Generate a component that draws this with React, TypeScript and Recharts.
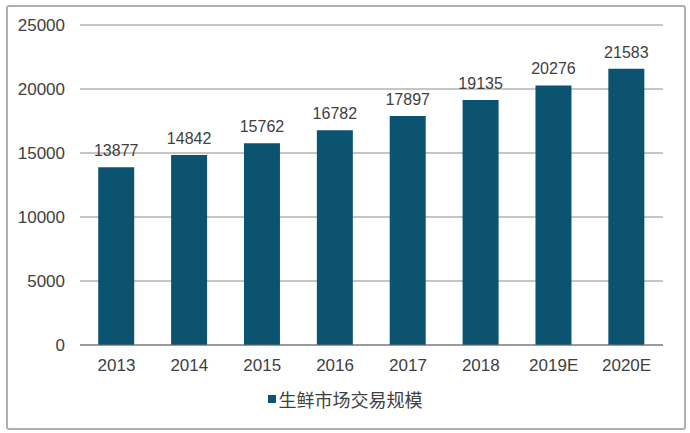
import { BarChart, Bar, XAxis, YAxis, CartesianGrid, Legend, LabelList } from 'recharts';

const years = ['2013', '2014', '2015', '2016', '2017', '2018', '2019E', '2020E'];
const marketSize = [13877, 14842, 15762, 16782, 17897, 19135, 20276, 21583];
const yTicks = [0, 5000, 10000, 15000, 20000, 25000];

const SERIES_NAME = '生鲜市场交易规模';
const BAR_COLOR = '#0c5370';
const TEXT_COLOR = '#404040';

const chartData = years.map((year, i) => ({ year, value: marketSize[i] }));

const LegendContent = () => (
  <div
    style={{
      display: 'flex',
      justifyContent: 'center',
      alignItems: 'center',
      fontFamily: '"Noto Sans CJK SC", "Liberation Sans", sans-serif',
      fontSize: 18,
      color: TEXT_COLOR,
    }}
  >
    <span style={{ width: 8, height: 8, background: BAR_COLOR, marginRight: 3 }} />
    <span>{SERIES_NAME}</span>
  </div>
);

export default function App() {
  return (
    <div style={{ position: 'fixed', left: 0, top: 0, width: 690, height: 433, background: '#fff' }}>
      <div
        style={{
          position: 'absolute',
          left: 6,
          top: 5,
          width: 676,
          height: 421,
          border: '2px solid #b0b0b0',
          borderRadius: 3,
        }}
      />
      <BarChart
        width={690}
        height={433}
        data={chartData}
        margin={{ top: 25, right: 27, left: 0, bottom: 58 }}
        barCategoryGap="25%"
        style={{ fontFamily: '"Liberation Sans", Arial, sans-serif' }}
      >
        <CartesianGrid vertical={false} stroke="#8c8c8c" />
        <XAxis
          dataKey="year"
          height={30}
          tickLine={false}
          axisLine={{ stroke: '#707070' }}
          tick={{ fill: TEXT_COLOR, fontSize: 17 }}
          tickMargin={8}
        />
        <YAxis
          width={80}
          domain={[0, 25000]}
          ticks={yTicks}
          axisLine={false}
          tickLine={false}
          tick={{ fill: TEXT_COLOR, fontSize: 17, dx: -7 }}
        />
        <Legend
          verticalAlign="middle"
          align="center"
          content={<LegendContent />}
          wrapperStyle={{ top: 386, left: 0, width: 690 }}
        />
        <Bar dataKey="value" name={SERIES_NAME} fill={BAR_COLOR} isAnimationActive={false}>
          <LabelList dataKey="value" position="top" offset={11} fill={TEXT_COLOR} fontSize={16} />
        </Bar>
      </BarChart>
    </div>
  );
}
